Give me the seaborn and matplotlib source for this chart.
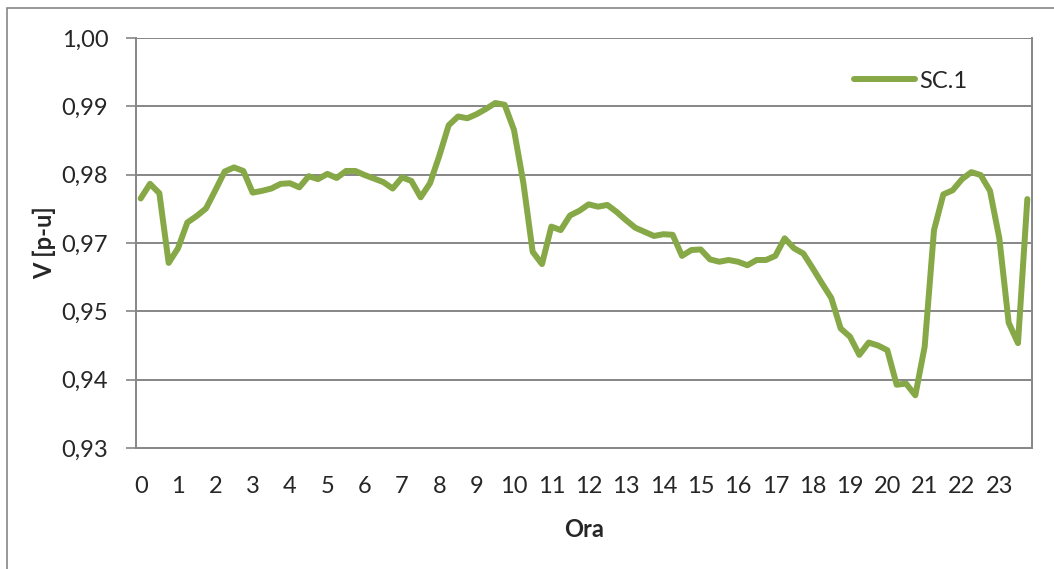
import numpy as np
import pandas as pd
import seaborn as sns
import matplotlib.pyplot as plt
from matplotlib.patches import Rectangle

# tensiune la nodul SC.1, 96 intervale de 15 minute
tensiune = [
    0.9726, 0.9751, 0.9735, 0.9616, 0.9641, 0.9685, 0.9696, 0.9709,
    0.9740, 0.9772, 0.9779, 0.9773, 0.9736, 0.9739, 0.9743, 0.9751,
    0.9752, 0.9745, 0.9764, 0.9759, 0.9768, 0.9761, 0.9773, 0.9773,
    0.9766, 0.9760, 0.9754, 0.9743, 0.9762, 0.9756, 0.9728, 0.9752,
    0.9799, 0.9851, 0.9866, 0.9863, 0.9870, 0.9879, 0.9889, 0.9886,
    0.9843, 0.9753, 0.9635, 0.9614, 0.9678, 0.9672, 0.9697, 0.9705,
    0.9716, 0.9712, 0.9715, 0.9703, 0.9689, 0.9676, 0.9669, 0.9662,
    0.9665, 0.9664, 0.9628, 0.9638, 0.9639, 0.9622, 0.9618, 0.9621,
    0.9618, 0.9612, 0.9621, 0.9621, 0.9628, 0.9658, 0.9641, 0.9632,
    0.9607, 0.9581, 0.9556, 0.9504, 0.9490, 0.9459, 0.9480, 0.9475,
    0.9467, 0.9408, 0.9410, 0.9390, 0.9473, 0.9672, 0.9733, 0.9740,
    0.9759, 0.9771, 0.9766, 0.9739, 0.9658, 0.9514, 0.9479, 0.9725,
]
ore = [str(h) for h in range(24)]
ytick_labels = ['0,93', '0,94', '0,95', '0,97', '0,98', '0,99', '1,00']
serie = 'SC.1'

df = pd.DataFrame({'idx': np.arange(len(tensiune)), 'V': tensiune, 'serie': serie})

sns.set_style('white')
plt.rcParams['font.family'] = ['Lato', 'DejaVu Sans']
plt.rcParams['font.size'] = 17

fig = plt.figure(figsize=(10.54, 5.69), dpi=100)
ax = fig.add_axes([136 / 1054, 1 - 448 / 569, 896 / 1054, 410 / 569])

grid_col = '#868686'
verde = '#86a846'

sns.lineplot(data=df, x='idx', y='V', hue='serie', palette=[verde],
             linewidth=4.3, ax=ax, solid_joinstyle='round', solid_capstyle='round')

ax.set_xlim(-0.5, len(tensiune) - 0.5)
ax.set_ylim(0.93, 1.00)
yt = np.linspace(0.93, 1.00, len(ytick_labels))
ax.set_yticks(yt)
ax.set_yticklabels(ytick_labels)
for y in yt[1:]:
    ax.axhline(y, color=grid_col, lw=1.4, zorder=0)

ax.set_xticks(np.arange(0, len(tensiune), 4))
ax.set_xticklabels(ore)
ax.set_xticks(np.arange(-0.5, len(tensiune)), minor=True)
ax.tick_params(axis='x', which='major', length=0, pad=20, labelsize=17)
ax.tick_params(axis='x', which='minor', length=5, width=1.2, color=grid_col, direction='out')
ax.tick_params(axis='y', which='major', length=7, width=1.2, color=grid_col,
               direction='out', pad=13, labelsize=17, left=True)

for side in ['left', 'bottom', 'right']:
    ax.spines[side].set_color(grid_col)
    ax.spines[side].set_linewidth(1.4)
ax.spines['top'].set_visible(False)

ax.set_xlabel('Ora', fontweight='bold', fontsize=17, labelpad=15)
ax.set_ylabel('V [p-u]', fontweight='bold', fontsize=17)
ax.yaxis.set_label_coords(-0.089, 0.5)

leg = ax.legend(loc='center right', bbox_to_anchor=(0.951, 0.895), frameon=False,
                handlelength=2.55, handletextpad=0.17, fontsize=17)
for h in leg.get_lines():
    h.set_linewidth(4.3)

fig.patches.append(Rectangle((7 / 1054, -0.05), 1.2, 1 - 8 / 569 + 0.05,
                             transform=fig.transFigure, fill=False,
                             edgecolor=grid_col, lw=1.2))

fig.savefig('out.png', dpi=100)
